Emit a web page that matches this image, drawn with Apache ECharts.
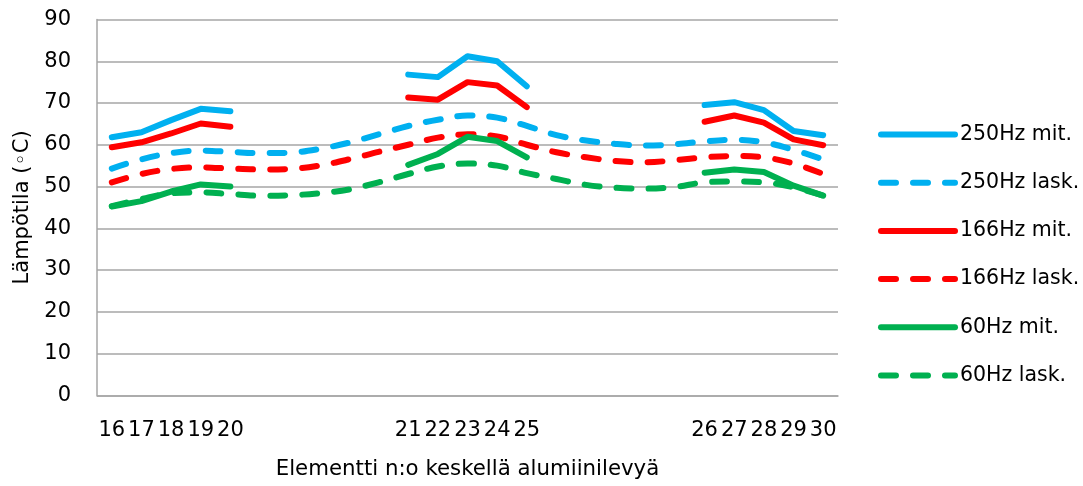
<!DOCTYPE html>
<html><head><meta charset="utf-8">
<script src="https://cdn.jsdelivr.net/npm/echarts@6/dist/echarts.min.js"></script>
<style>html,body{margin:0;padding:0;background:#fff}#c{width:1083px;height:486px}</style>
</head><body><div id="c"></div>
<script>
const categories = ['16','17','18','19','20','','','','','','21','22','23','24','25','','','','','','26','27','28','29','30'];
const seriesNames = ['250Hz mit.','250Hz lask.','166Hz mit.','166Hz lask.','60Hz mit.','60Hz lask.'];
const mit250 = [61.8,63,65.9,68.6,68,null,null,null,null,null,76.8,76.2,81.2,80,74,null,null,null,null,null,69.5,70.2,68.3,63.3,62.3];
const lask250 = [54.3,56.5,58,58.6,58.3,58,58.1,59,60.5,62.5,64.5,66,67,66.5,64.5,62.3,61,60.2,59.8,60.1,60.8,61.2,60.6,58.8,56.5];
const mit166 = [59.4,60.6,62.7,65.1,64.3,null,null,null,null,null,71.3,70.8,75,74.2,69,null,null,null,null,null,65.5,67,65.3,61.3,59.9];
const lask166 = [51,53,54.2,54.6,54.3,54.1,54.2,55,56.5,58.3,60,61.7,62.5,62,60,58.2,57,56.1,55.8,56.3,57,57.3,57,55.5,53];
const mit60 = [45.2,46.5,48.8,50.5,50,null,null,null,null,null,55.2,57.8,61.9,60.9,57,null,null,null,null,null,53.3,54.1,53.5,50.2,47.8];
const lask60 = [45.3,47,48.4,48.6,48.2,47.8,47.9,48.4,49.3,51,53,54.8,55.5,55,53.2,51.8,50.4,49.7,49.5,49.9,51,51.2,51,49.8,47.8];
const yTicks = {min: 0, max: 90, step: 10};

const FONT = 'DejaVu Sans';
const BLUE = '#00B0F0', RED = '#FF0000', GREEN = '#00B050';
const DASH = [15, 17];
function mk(name, data, color, dashed) {
  return {
    name: name, type: 'line', data: data, symbol: 'none', showSymbol: false,
    smooth: dashed ? 0.35 : false, connectNulls: false,
    lineStyle: {color: color, width: 6, type: dashed ? DASH : 'solid', cap: 'round', join: 'round'},
    itemStyle: {color: color},
    emphasis: {disabled: true}
  };
}
const chart = echarts.init(document.getElementById('c'), null, {renderer: 'canvas'});
chart.setOption({
  animation: false,
  backgroundColor: '#fff',
  textStyle: {fontFamily: FONT, color: '#000'},
  grid: {left: 97, right: 245, top: 19.5, bottom: 90.7, containLabel: false},
  legend: {
    orient: 'vertical', left: 878, top: 124, padding: 0,
    itemWidth: 74, itemHeight: 20, itemGap: 27.2,
    data: seriesNames,
    textStyle: {fontFamily: FONT, fontSize: 20.5, color: '#000', lineHeight: 20},
    lineStyle: {width: 6},
    itemStyle: {opacity: 0},
    selectedMode: false
  },
  xAxis: {
    type: 'category', data: categories, boundaryGap: true,
    name: 'Elementti n:o keskellä alumiinilevyä', nameLocation: 'middle', nameGap: 63.5,
    nameTextStyle: {fontFamily: FONT, fontSize: 21.3, color: '#000'},
    axisLine: {show: true, lineStyle: {color: '#a6a6a6', width: 1.5}},
    axisTick: {show: false},
    axisLabel: {interval: 0, margin: 25, fontFamily: FONT, fontSize: 21, color: '#000'},
    splitLine: {show: false}
  },
  yAxis: {
    type: 'value', min: yTicks.min, max: yTicks.max, interval: yTicks.step,
    name: 'Lämpötila (◦C)', nameLocation: 'middle', nameGap: 62, nameRotate: 90,
    nameTextStyle: {fontFamily: FONT, fontSize: 21, color: '#000'},
    axisLine: {show: true, lineStyle: {color: '#a6a6a6', width: 1.5}},
    axisTick: {show: false},
    axisLabel: {margin: 26, fontFamily: FONT, fontSize: 21, color: '#000'},
    splitLine: {show: true, lineStyle: {color: '#a6a6a6', width: 1.5}}
  },
  series: [
    mk(seriesNames[0], mit250, BLUE, false),
    mk(seriesNames[1], lask250, BLUE, true),
    mk(seriesNames[2], mit166, RED, false),
    mk(seriesNames[3], lask166, RED, true),
    mk(seriesNames[4], mit60, GREEN, false),
    mk(seriesNames[5], lask60, GREEN, true)
  ]
});
</script></body></html>
